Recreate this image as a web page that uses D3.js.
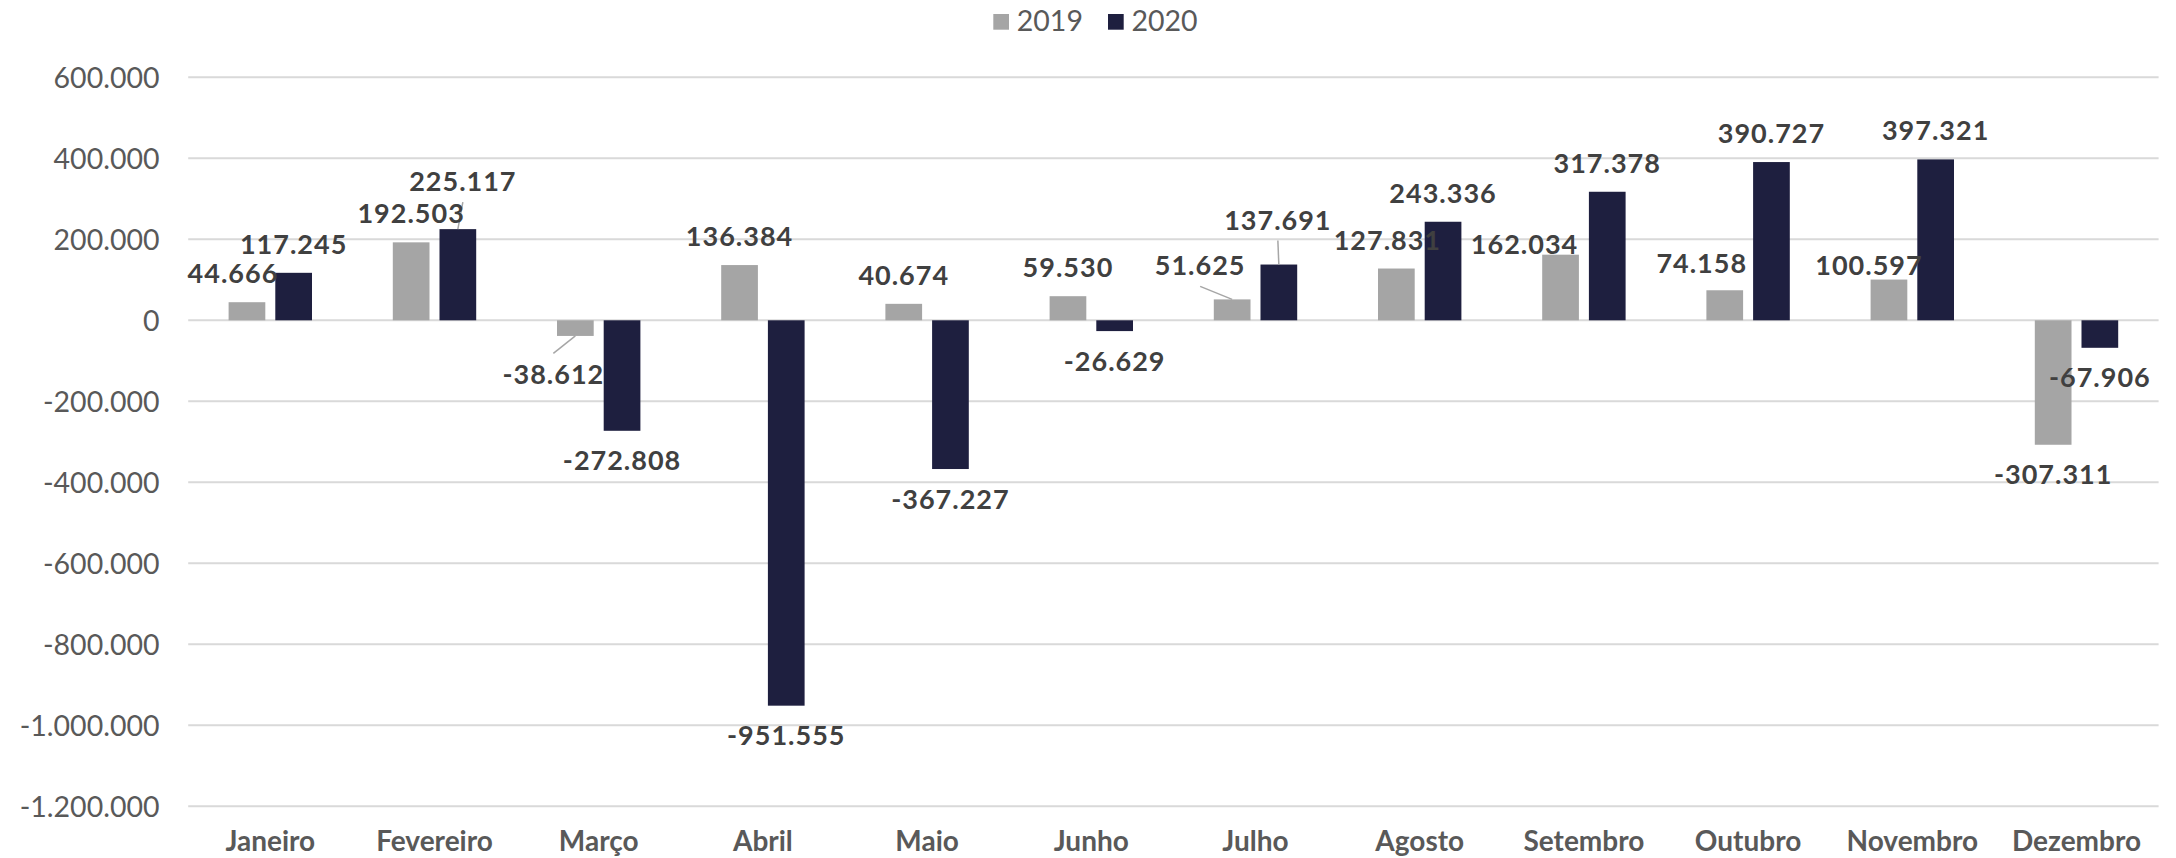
<!DOCTYPE html>
<html>
<head>
<meta charset="utf-8">
<script src="https://cdn.jsdelivr.net/npm/d3@7"></script>
<style>
  html, body { margin: 0; padding: 0; background: #fff; }
  svg { display: block; }
  .tick-y { font-family: Lato, "Open Sans", sans-serif; font-size: 28.5px; fill: #595959; }
  .cat { font-family: Lato, sans-serif; font-weight: 700; font-size: 28px; fill: #595959; }
  .lbl { font-family: Lato, sans-serif; font-weight: 700; font-size: 27px; fill: #404040; letter-spacing: 1px; }
  .leg { font-family: Lato, sans-serif; font-size: 28.5px; fill: #595959; }
</style>
</head>
<body>
<div id="container"></div>
<script>
const months = ["Janeiro", "Fevereiro", "Março", "Abril", "Maio", "Junho", "Julho",
    "Agosto", "Setembro", "Outubro", "Novembro", "Dezembro"]
const series = ["2019", "2020"]
const values2019 = [44666, 192503, -38612, 136384, 40674, 59530, 51625, 127831, 162034, 74158, 100597, -307311]
const values2020 = [117245, 225117, -272808, -951555, -367227, -26629, 137691, 243336, 317378, 390727, 397321, -67906]
const yTicks = [-1200000, -1000000, -800000, -600000, -400000, -200000, 0, 200000, 400000, 600000]
const colors = { "2019": "#a5a5a5", "2020": "#1e1f3f" }

// labels that were dragged away from their bar in the original (dx, dy, leader line)
const nudge2019 = [[-14, 0], [0, 0], [-22, 9, true], [0, 0], [0, 0], [0, 0], [-32, -5, true],
    [-9, 0], [-36, 18], [-23, 2], [-20, 14], [0, 0]]
const nudge2020 = [[0, 0], [5, -19, true], [0, 0], [0, 0], [0, 0], [0, 0], [-1, -16, true],
    [0, 0], [0, 0], [0, 0], [0, 0], [0, 0]]

const width = 2176
const height = 858
const plotL = 188.2, plotR = 2158.6, plotT = 77.3, plotB = 806.3

const locale = d3.formatLocale({ decimal: ",", thousands: ".", grouping: [3], currency: ["R$", ""], minus: "-" })
const fmt = locale.format(",d")

const svg = d3.select("#container").append("svg")
    .attr("width", width)
    .attr("height", height)

const y = d3.scaleLinear().domain([-1200000, 600000]).range([plotB, plotT])
const x = d3.scaleBand().domain(months).range([plotL, plotR])
const pairW = 83.4
const x1 = d3.scaleBand().domain(series).range([0, pairW]).paddingInner(0.214)
const pairOff = (x.bandwidth() - pairW) / 2

// gridlines
svg.append("g")
    .selectAll("line")
    .data(yTicks)
    .enter().append("line")
    .attr("x1", plotL)
    .attr("x2", plotR)
    .attr("y1", d => y(d))
    .attr("y2", d => y(d))
    .attr("stroke", "#d9d9d9")
    .attr("stroke-width", 2)

// y tick labels
svg.append("g")
    .selectAll("text")
    .data(yTicks)
    .enter().append("text")
    .attr("class", "tick-y")
    .attr("text-anchor", "end")
    .attr("x", 159.5)
    .attr("y", d => y(d))
    .attr("dy", "0.36em")
    .text(d => fmt(d))

// category labels
svg.append("g")
    .selectAll("text")
    .data(months)
    .enter().append("text")
    .attr("class", "cat")
    .attr("text-anchor", "middle")
    .attr("x", d => x(d) + x.bandwidth() / 2)
    .attr("y", 851)
    .text(d => d)

const rows = []
months.forEach((m, i) => {
    rows.push({ month: m, key: "2019", value: values2019[i], nudge: nudge2019[i] })
    rows.push({ month: m, key: "2020", value: values2020[i], nudge: nudge2020[i] })
})
const cx = d => x(d.month) + pairOff + x1(d.key) + x1.bandwidth() / 2

svg.append("g")
    .selectAll("rect")
    .data(rows)
    .enter().append("rect")
    .attr("x", d => x(d.month) + pairOff + x1(d.key))
    .attr("width", x1.bandwidth())
    .attr("y", d => Math.min(y(d.value), y(0)))
    .attr("height", d => Math.abs(y(d.value) - y(0)))
    .attr("fill", d => colors[d.key])

// leader lines
svg.append("g")
    .selectAll("line")
    .data(rows.filter(d => d.nudge[2]))
    .enter().append("line")
    .attr("x1", d => cx(d) + d.nudge[0])
    .attr("y1", d => d.value >= 0 ? y(d.value) - 19 + d.nudge[1] + 11 : y(d.value) + 39.5 + d.nudge[1] - 20 - 11)
    .attr("x2", d => cx(d))
    .attr("y2", d => y(d.value))
    .attr("stroke", "#a6a6a6")
    .attr("stroke-width", 1.5)

// data labels
svg.append("g")
    .selectAll("text")
    .data(rows)
    .enter().append("text")
    .attr("class", "lbl")
    .attr("text-anchor", "middle")
    .attr("x", d => cx(d) + d.nudge[0])
    .attr("y", d => (d.value >= 0 ? y(d.value) - 19 : y(d.value) + 39.5) + d.nudge[1])
    .text(d => fmt(d.value))

// legend
const legend = svg.append("g")
    .selectAll("g")
    .data(series)
    .enter().append("g")
    .attr("transform", (d, i) => `translate(${993.3 + i * 114.7}, 0)`)

legend.append("rect")
    .attr("y", 14)
    .attr("width", 15.7)
    .attr("height", 15.7)
    .attr("fill", d => colors[d])

legend.append("text")
    .attr("class", "leg")
    .attr("x", 23.5)
    .attr("y", 30.5)
    .text(d => d)
</script>
</body>
</html>
